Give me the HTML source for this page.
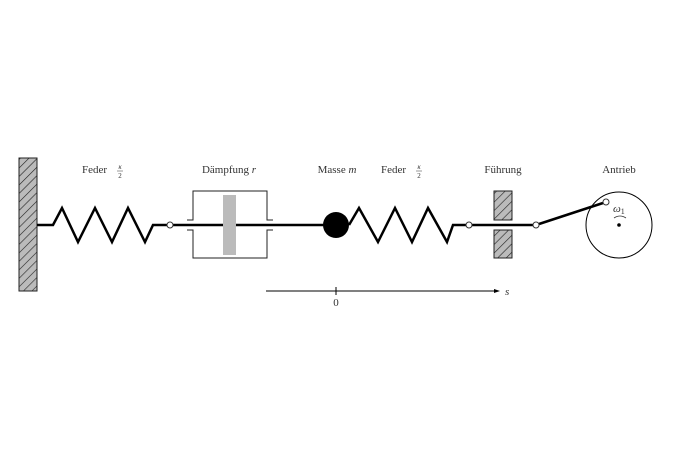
<!DOCTYPE html>
<html><head><meta charset="utf-8"><style>body{margin:0;background:#fff}</style></head><body>
<svg width="696" height="464" viewBox="0 0 696 464" xmlns="http://www.w3.org/2000/svg" font-family="Liberation Serif, serif" font-size="11" fill="#333">
<defs>
<pattern id="h" width="6" height="6" patternUnits="userSpaceOnUse" patternTransform="rotate(45)">
<rect width="6" height="6" fill="#bbb"/><line x1="0" y1="0" x2="0" y2="6" stroke="#222" stroke-width="1.2"/></pattern>
</defs>
<rect x="19" y="158" width="18" height="133" fill="url(#h)" stroke="#222"/>
<polyline points="37,225 53,225 62,208 78,242 95,208 112,242 128,208 145,242 153,225 167,225" fill="none" stroke="#000" stroke-width="2.5"/>
<line x1="173" y1="225" x2="330" y2="225" stroke="#000" stroke-width="2.5"/>
<path d="M187,220 H193 V191 H267 V220 H273 M187,230 H193 V258 H267 V230 H273" fill="none" stroke="#222" stroke-width="1"/>
<rect x="223" y="195" width="13" height="60" fill="#bbb"/>
<circle cx="336" cy="225" r="13" fill="#000"/>
<polyline points="349,225 359,208 378,242 395,208 412,242 428,208 447,242 453,225 466,225" fill="none" stroke="#000" stroke-width="2.5"/>
<rect x="494" y="191" width="18" height="29" fill="url(#h)" stroke="#222"/>
<rect x="494" y="230" width="18" height="28" fill="url(#h)" stroke="#222"/>
<line x1="472" y1="225" x2="533" y2="225" stroke="#000" stroke-width="2.5"/>
<line x1="539" y1="224" x2="603" y2="203" stroke="#000" stroke-width="2.5"/>
<circle cx="619" cy="225" r="33" fill="none" stroke="#000" stroke-width="1"/>
<circle cx="619" cy="225" r="1.8" fill="#000"/>
<circle cx="170" cy="225" r="3" fill="#fff" stroke="#333"/>
<circle cx="469" cy="225" r="3" fill="#fff" stroke="#333"/>
<circle cx="536" cy="225" r="3" fill="#fff" stroke="#333"/>
<circle cx="606" cy="202" r="3" fill="#fff" stroke="#333"/>
<text x="613" y="212" font-style="italic" font-size="11">ω<tspan font-size="8" dy="2" font-style="normal">1</tspan></text>
<path d="M614,218 Q620,214 626,218" fill="none" stroke="#333" stroke-width="0.8"/>
<line x1="266" y1="291" x2="496" y2="291" stroke="#000" stroke-width="1"/>
<path d="M500,291 L494,289 L494,293 Z" fill="#000"/>
<line x1="336" y1="287" x2="336" y2="295" stroke="#000" stroke-width="1"/>
<text x="336" y="306" text-anchor="middle">0</text>
<text x="505" y="295" font-style="italic">s</text>
<text x="82" y="173">Feder</text>
<text x="120" y="169" font-style="italic" font-size="7" text-anchor="middle">κ</text>
<line x1="117" y1="171" x2="123" y2="171" stroke="#333" stroke-width="0.5"/>
<text x="120" y="178" font-size="7" text-anchor="middle">2</text>
<text x="229" y="173" text-anchor="middle">Dämpfung <tspan font-style="italic">r</tspan></text>
<text x="337" y="173" text-anchor="middle">Masse <tspan font-style="italic">m</tspan></text>
<text x="381" y="173">Feder</text>
<text x="419" y="169" font-style="italic" font-size="7" text-anchor="middle">κ</text>
<line x1="416" y1="171" x2="422" y2="171" stroke="#333" stroke-width="0.5"/>
<text x="419" y="178" font-size="7" text-anchor="middle">2</text>
<text x="503" y="173" text-anchor="middle">Führung</text>
<text x="619" y="173" text-anchor="middle">Antrieb</text>
</svg>
</body></html>
